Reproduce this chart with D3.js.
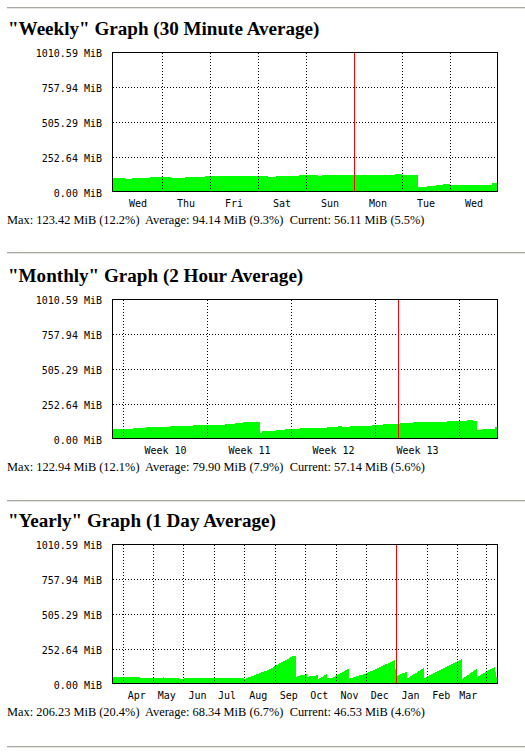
<!DOCTYPE html>
<html>
<head>
<meta charset="utf-8">
<script src="https://cdn.jsdelivr.net/npm/d3@7"></script>
<style>
  body { margin: 0; background: #fff; }
  svg { display: block; }
  .title { font-family: "Liberation Serif", "Times New Roman", serif; font-weight: bold; font-size: 19.1px; fill: #000; }
  .stats { font-family: "Liberation Serif", "Times New Roman", serif; font-size: 12.4px; fill: #000; white-space: pre; }
  .tick { font-family: "DejaVu Sans Mono", monospace; font-size: 10px; fill: #000; }
</style>
</head>
<body>
<div id="chart"></div>
<script>
// shared y axis (MiB)
const yMax = 1010.59;
const yTicks = [0, 252.64, 505.29, 757.94, 1010.59];

// weekly: hours from left edge of the graph, 30 min averages
const weeklyHours = [0, 6, 9.5, 18.3, 26.7, 29.2, 35.8, 45.8, 48.3, 65.5, 77.5, 81.5, 92.8, 102.5,
  104.3, 109, 120.5, 134.3, 141, 144.3, 152.7, 156.8, 161.5, 164.8, 168.5, 189.3, 192];
const weeklyMiB = [103, 96, 101, 108, 110, 103, 108, 115, 113, 118, 110, 118, 125, 118,
  120, 125, 120, 125, 132, 123, 36, 45, 53, 60, 53, 63, 63];
const weeklyGrid = [24.5, 48.5, 72.5, 96.5, 144.5, 168.5];
const weeklyRed = 120.5;
const weeklyLabels = ["Wed", "Thu", "Fri", "Sat", "Sun", "Mon", "Tue", "Wed"];
const weeklyLabelPos = [12.5, 36.5, 60.5, 84.5, 108.5, 132.5, 156.5, 180.5];

// monthly: days from left edge, 2 hour averages
const monthlyDays = [0, 0.19, 0.83, 1.67, 2.36, 2.78, 3.61, 4.72, 5.56, 6.67, 7.92, 9.31, 10.14, 10.83,
  11.81, 12.22, 12.42, 12.92, 13.61, 14.31, 15.0, 15.56, 16.69, 17.31, 17.81, 18.78, 19.06, 19.75,
  20.58, 21.56, 22.53, 23.92, 25.03, 26.69, 27.81, 28.92, 29.47, 30.03, 30.31, 30.72, 31.83, 32];
const monthlyMiB = [70, 74, 72, 77, 79, 84, 87, 92, 95, 101, 103, 108, 115, 120,
  123, 41, 56, 60, 65, 72, 69, 79, 82, 79, 84, 92, 87, 92,
  96, 102, 108, 113, 120, 125, 128, 130, 137, 132, 67, 74, 84, 84];
const monthlyGrid = [0.875, 7.875, 14.875, 21.875, 28.875];
const monthlyRed = 23.8;
const monthlyLabels = ["Week 10", "Week 11", "Week 12", "Week 13"];
const monthlyLabelPos = [4.375, 11.375, 18.375, 25.375];

// yearly: days from left edge, 1 day averages
const yearlyDays = [0, 26.5, 26.5, 30, 50, 50, 53, 58, 60, 66, 67, 71, 71, 85, 88, 89, 100, 110, 118, 119, 131,
  132, 135, 138, 142, 146, 150, 155, 160, 165, 169, 174, 178, 183, 183.5, 185, 194, 194.5, 205, 205.5,
  214, 214.5, 219, 235.5, 236.5, 242, 253, 282, 283, 293.5, 294.5, 310.5, 311.5, 348.5, 349.5,
  363.5, 364.5, 382, 383, 384];
const yearlyMiB = [53, 53, 38, 45, 45, 48, 43, 47, 43, 45, 34, 34, 45, 43, 47, 43, 45, 42, 46, 42, 41,
  36, 48, 55, 65, 77, 87, 101, 120, 142, 159, 175, 197, 206, 53, 58, 72, 53, 63, 38,
  72, 43, 43, 110, 38, 53, 75, 173, 53, 90, 41, 115, 43, 180, 38,
  108, 53, 125, 47, 47];
const yearlyGrid = [10, 40.3, 70.7, 101, 131.7, 162.3, 192.3, 223, 253, 314, 344.3, 373];
const yearlyRed = 283.7;
const yearlyLabels = ["Apr", "May", "Jun", "Jul", "Aug", "Sep", "Oct", "Nov", "Dec", "Jan", "Feb", "Mar"];
const yearlyLabelPos = [23.7, 53.7, 84.5, 114, 145.3, 175.7, 206.2, 236.5, 266.7, 297.5, 328.2, 355.3];

const rules = [7, 252, 500, 746];

const panels = [
  { title: '"Weekly" Graph (30 Minute Average)', top: 52, span: 192,
    times: weeklyHours, values: weeklyMiB, curve: d3.curveStepAfter,
    grid: weeklyGrid, red: weeklyRed, labels: weeklyLabels, labelPos: weeklyLabelPos,
    stats: "Max: 123.42 MiB (12.2%)  Average: 94.14 MiB (9.3%)  Current: 56.11 MiB (5.5%)" },
  { title: '"Monthly" Graph (2 Hour Average)', top: 299, span: 32,
    times: monthlyDays, values: monthlyMiB, curve: d3.curveStepAfter,
    grid: monthlyGrid, red: monthlyRed, labels: monthlyLabels, labelPos: monthlyLabelPos,
    stats: "Max: 122.94 MiB (12.1%)  Average: 79.90 MiB (7.9%)  Current: 57.14 MiB (5.6%)" },
  { title: '"Yearly" Graph (1 Day Average)', top: 544, span: 384,
    times: yearlyDays, values: yearlyMiB, curve: d3.curveLinear,
    grid: yearlyGrid, red: yearlyRed, labels: yearlyLabels, labelPos: yearlyLabelPos,
    stats: "Max: 206.23 MiB (20.4%)  Average: 68.34 MiB (6.7%)  Current: 46.53 MiB (4.6%)" }
];

const plotLeft = 113, plotRight = 497, plotHeight = 140;

const svg = d3.select("#chart").append("svg")
  .attr("width", 525)
  .attr("height", 752);

svg.append("rect").attr("width", 525).attr("height", 752).attr("fill", "#fff");

// horizontal rules between the graphs
rules.forEach((r) => {
  svg.append("rect")
    .attr("x", 7).attr("y", r)
    .attr("width", 518).attr("height", 1)
    .attr("fill", "#a8a8a0");
  svg.append("rect")
    .attr("x", 7).attr("y", r + 1)
    .attr("width", 518).attr("height", 1)
    .attr("fill", "#e4e4de");
});

panels.forEach(drawPanel);

function drawPanel(p) {
  const top = p.top;
  const x = d3.scaleLinear().domain([0, p.span]).range([plotLeft, plotRight]);
  const y = d3.scaleLinear().domain([0, yMax]).range([top + plotHeight, top]);
  const crisp = (v) => Math.floor(v) + 0.5;

  const g = svg.append("g");

  g.append("text")
    .attr("class", "title")
    .attr("x", 8)
    .attr("y", top - 17)
    .text(p.title);

  // the traffic area
  const data = p.times.map((t, i) => ({ t: t, v: p.values[i] }));
  const area = d3.area()
    .x((d) => x(d.t))
    .y0(y(0))
    .y1((d) => y(d.v))
    .curve(p.curve);
  g.append("path")
    .datum(data)
    .attr("d", area)
    .attr("fill", "#00ff00")
    .attr("shape-rendering", "crispEdges");

  // dotted grid
  const grid = g.append("g")
    .attr("stroke", "#000")
    .attr("stroke-dasharray", "1,2")
    .attr("shape-rendering", "crispEdges");
  grid.selectAll("line.h")
    .data(yTicks.slice(1, -1))
    .enter()
    .append("line")
    .attr("class", "h")
    .attr("x1", plotLeft).attr("x2", plotRight + 1)
    .attr("y1", (d) => crisp(y(d))).attr("y2", (d) => crisp(y(d)));
  grid.selectAll("line.v")
    .data(p.grid)
    .enter()
    .append("line")
    .attr("class", "v")
    .attr("x1", (d) => crisp(x(d))).attr("x2", (d) => crisp(x(d)))
    .attr("y1", top + 1).attr("y2", top + plotHeight - 1);

  // red marker (start of week / month / year)
  g.append("line")
    .attr("x1", crisp(x(p.red))).attr("x2", crisp(x(p.red)))
    .attr("y1", top).attr("y2", top + plotHeight - 1)
    .attr("stroke", "#ff0000")
    .attr("shape-rendering", "crispEdges");

  // frame
  g.append("rect")
    .attr("x", plotLeft - 0.5)
    .attr("y", top + 0.5)
    .attr("width", plotRight - plotLeft + 1)
    .attr("height", plotHeight - 1)
    .attr("fill", "none")
    .attr("stroke", "#000")
    .attr("shape-rendering", "crispEdges");

  // y labels
  g.selectAll("text.ylab")
    .data(yTicks)
    .enter()
    .append("text")
    .attr("class", "tick ylab")
    .attr("x", 102)
    .attr("y", (d) => y(d) + 5)
    .attr("text-anchor", "end")
    .text((d) => d.toFixed(2) + " MiB");

  // x labels
  g.selectAll("text.xlab")
    .data(p.labels)
    .enter()
    .append("text")
    .attr("class", "tick xlab")
    .attr("x", (d, i) => x(p.labelPos[i]))
    .attr("y", top + 155)
    .attr("text-anchor", "middle")
    .text((d) => d);

  g.append("text")
    .attr("class", "stats")
    .attr("x", 7)
    .attr("y", top + 172)
    .text(p.stats);
}
</script>
</body>
</html>
